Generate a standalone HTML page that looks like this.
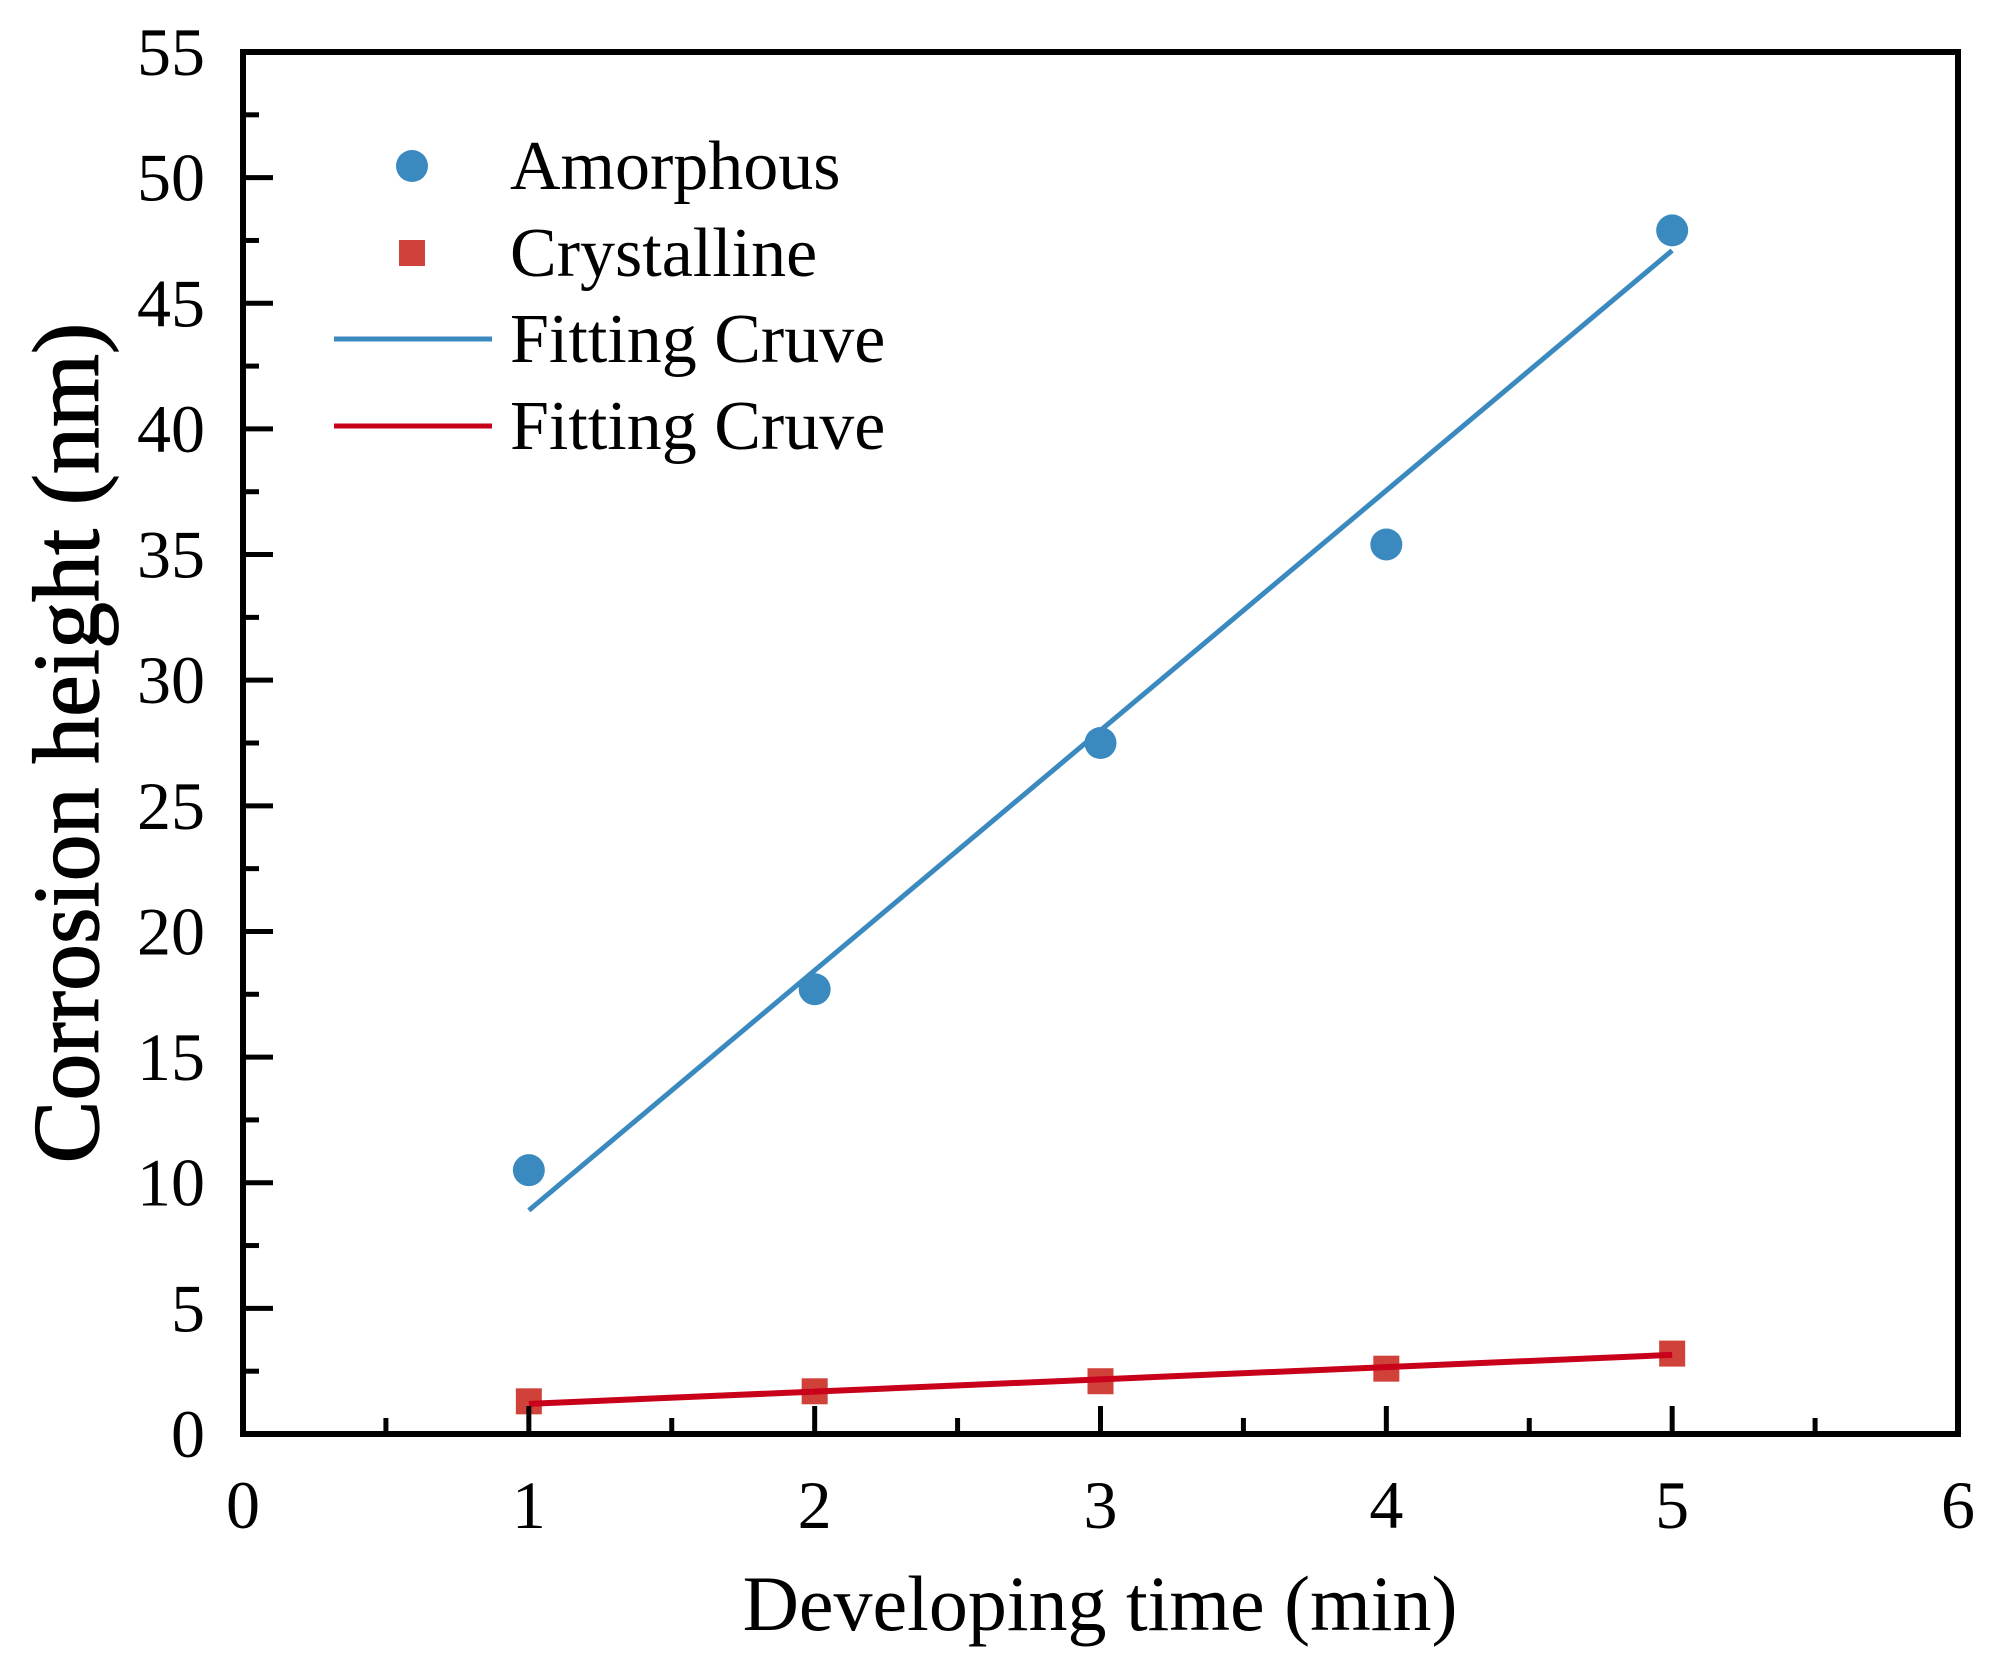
<!DOCTYPE html>
<html><head><meta charset="utf-8"><style>
html,body{margin:0;padding:0;background:#fff;}
svg{display:block;font-family:"Liberation Serif",serif;}
</style></head><body>
<svg id="chart" width="2000" height="1664" viewBox="0 0 2000 1664">
<g id="marks"></g>
<rect x="243" y="52" width="1715" height="1382" fill="none" stroke="#000" stroke-width="6"/>
<g id="ticks"></g>
<text x="1100" y="1630" font-size="78" text-anchor="middle">Developing time (min)</text>
<text transform="translate(98,743) rotate(-90)" font-size="94" text-anchor="middle" stroke="#000" stroke-width="1.2">Corrosion height (nm)</text>
<g>
<circle cx="412" cy="166" r="16" fill="#3a8ac0"/>
<text x="510" y="189" font-size="70">Amorphous</text>
<rect x="399" y="240" width="26" height="26" fill="#d0413a"/>
<text x="510" y="276" font-size="70">Crystalline</text>
<line x1="334" y1="339" x2="492" y2="339" stroke="#3a8ac0" stroke-width="5"/>
<text x="510" y="362" font-size="70">Fitting Cruve</text>
<line x1="334" y1="426" x2="492" y2="426" stroke="#c8001a" stroke-width="5"/>
<text x="510" y="449" font-size="70">Fitting Cruve</text>
</g>
</svg>
<script>
const xValues = [1, 2, 3, 4, 5];
const amorphous = [10.5, 17.7, 27.5, 35.4, 47.9];
const crystalline = [1.3, 1.7, 2.1, 2.6, 3.2];
const blueFitX = [1, 5];
const blueFitY = [8.9, 47.1];
const redFitX = [1, 5];
const redFitY = [1.2, 3.15];
const xTickLabels = ["0","1","2","3","4","5","6"];
const yTickLabels = ["0","5","10","15","20","25","30","35","40","45","50","55"];

const L=243,R=1958,T=52,B=1434, XMAX=6, YMAX=55;
const sx=v=>L+(R-L)*v/XMAX;
const sy=v=>B-(B-T)*v/YMAX;
const NS="http://www.w3.org/2000/svg";
function mk(tag,attrs,parent){const e=document.createElementNS(NS,tag);for(const k in attrs)e.setAttribute(k,attrs[k]);parent.appendChild(e);return e;}
const marks=document.getElementById('marks');
const ticks=document.getElementById('ticks');

let l=mk('line',{x1:sx(blueFitX[0]),y1:sy(blueFitY[0]),x2:sx(blueFitX[1]),y2:sy(blueFitY[1]),stroke:'#3a8ac0','stroke-width':5},marks);



xValues.forEach((x,i)=>{
  const c=mk('circle',{cx:sx(x),cy:sy(amorphous[i]),r:16,fill:'#3a8ac0'},marks);
  
  
  const s=mk('rect',{x:sx(x)-13,y:sy(crystalline[i])-13,width:26,height:26,fill:'#d0413a'},marks);
  
  
});
l=mk('line',{x1:sx(redFitX[0]),y1:sy(redFitY[0]),x2:sx(redFitX[1]),y2:sy(redFitY[1]),stroke:'#c8001a','stroke-width':6},marks);



xTickLabels.forEach((t,i)=>{
  const tk=mk('line',{x1:sx(i),y1:B,x2:sx(i),y2:B-28,stroke:'#000','stroke-width':5},ticks);
  
  
  if(i<XMAX){const m=mk('line',{x1:sx(i+0.5),y1:B,x2:sx(i+0.5),y2:B-16,stroke:'#000','stroke-width':5},ticks);
  
  }
  const tx=mk('text',{x:sx(i),y:1528,'font-size':68,'text-anchor':'middle'},ticks);
  tx.textContent=t;
  
  
});
yTickLabels.forEach((t,i)=>{
  const v=i*5;
  const tk=mk('line',{x1:L,y1:sy(v),x2:L+30,y2:sy(v),stroke:'#000','stroke-width':5},ticks);
  
  
  if(v<YMAX){const m=mk('line',{x1:L,y1:sy(v+2.5),x2:L+16,y2:sy(v+2.5),stroke:'#000','stroke-width':5},ticks);
  
  }
  const tx=mk('text',{x:205,y:sy(v)+23,'font-size':68,'text-anchor':'end'},ticks);
  tx.textContent=t;
  
  
});
</script>
</body></html>
